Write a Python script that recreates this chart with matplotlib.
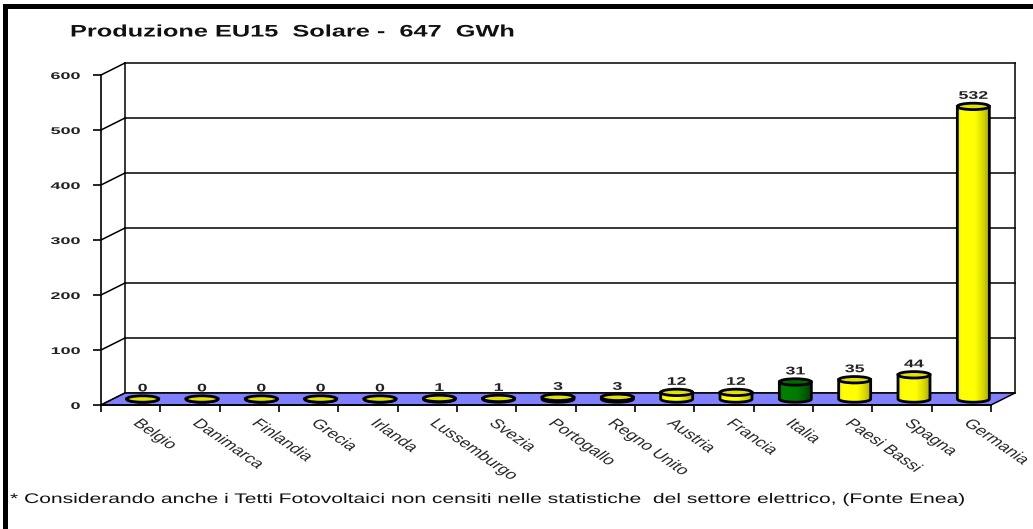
import numpy as np
import matplotlib
matplotlib.use("Agg")
import matplotlib.pyplot as plt
from matplotlib.patches import Polygon, Ellipse, PathPatch, Rectangle
from matplotlib.path import Path
from matplotlib.colors import LinearSegmentedColormap
from matplotlib.patheffects import AbstractPathEffect
from matplotlib.transforms import Affine2D, ScaledTranslation

# ---- data -------------------------------------------------------------
countries = ["Belgio", "Danimarca", "Finlandia", "Grecia", "Irlanda",
             "Lussemburgo", "Svezia", "Portogallo", "Regno Unito", "Austria",
             "Francia", "Italia", "Paesi Bassi", "Spagna", "Germania"]
gwh = [0, 0, 0, 0, 0, 1, 1, 3, 3, 12, 12, 31, 35, 44, 532]
highlight = "Italia"
y_ticks = [0, 100, 200, 300, 400, 500, 600]
title = "Produzione EU15  Solare -  647  GWh"
note = ("* Considerando anche i Tetti Fotovoltaici non censiti nelle "
        "statistiche  del settore elettrico, (Fonte Enea)")

plt.rcParams['font.family'] = ['Liberation Sans', 'DejaVu Sans']


class Widen(AbstractPathEffect):
    """Draw text horizontally widened by a factor around a pivot."""

    def __init__(self, sx, pivot='left'):
        super().__init__()
        self.sx = sx
        self.pivot = pivot

    def draw_path(self, renderer, gc, tpath, affine, rgbFace=None):
        m = affine.get_matrix()
        if self.pivot == 'left':
            px = m[0, 2]
        else:
            ext = affine.transform_path(tpath).get_extents()
            px = (ext.x0 + ext.x1) / 2 if self.pivot == 'center' else ext.x1
        t = Affine2D(m.copy()).translate(-px, 0).scale(self.sx, 1).translate(px, 0)
        renderer.draw_path(gc, tpath, t, rgbFace)


W, H, DPI = 1033, 529, 100
fig = plt.figure(figsize=(W / DPI, H / DPI), dpi=DPI)
fig.patch.set_facecolor('white')

# front plane of the box (pixels)
left_px, right_px, base_px, top_px = 101, 991, 405, 75
ax = fig.add_axes([left_px / W, 1 - base_px / H,
                   (right_px - left_px) / W, (base_px - top_px) / H])
n = len(countries)
ymax = y_ticks[-1]
ax.set_xlim(0, n)
ax.set_ylim(0, ymax)
ax.patch.set_visible(False)

ppx = ax.bbox.width / n
ppy = ax.bbox.height / ymax
DX = 24 / ppx      # depth shift of the back wall
DY = 12 / ppy

for s in ('top', 'right'):
    ax.spines[s].set_visible(False)
for s in ('left', 'bottom'):
    ax.spines[s].set_linewidth(1.2)
    ax.spines[s].set_zorder(2.5)

# back wall with gridlines and the slanted connectors
line_kw = dict(color='black', lw=1.1, clip_on=False, zorder=1)
for v in y_ticks:
    ax.plot([0, DX], [v, v + DY], **line_kw)
    ax.plot([DX, n + DX], [v + DY, v + DY], **line_kw)
ax.plot([DX, DX], [DY, ymax + DY], **line_kw)
ax.plot([n + DX, n + DX], [DY, ymax + DY], **line_kw)

# floor
floor = Polygon([(0, 0), (n, 0), (n + DX, DY), (DX, DY)], closed=True,
                facecolor='#8080ff', edgecolor='black', lw=1.1,
                clip_on=False, zorder=2)
ax.add_patch(floor)

# cylinders
cmap_y = LinearSegmentedColormap.from_list(
    'cyl_y', [(0, '#e8e800'), (0.12, '#ffff00'), (0.55, '#ffff00'),
              (0.8, '#d6d600'), (1, '#a4a400')])
cmap_g = LinearSegmentedColormap.from_list(
    'cyl_g', [(0, '#006400'), (0.12, '#008000'), (0.55, '#007a00'),
              (0.8, '#005c00'), (1, '#003c00')])
a = 16 / ppx
b = 3.2 / ppy
t = np.linspace(np.pi, 2 * np.pi, 48)
grad = np.linspace(0, 1, 256).reshape(1, -1)

for i, (name, v) in enumerate(zip(countries, gwh)):
    green = name == highlight
    cx = i + 0.5 + DX / 2
    y0 = DY / 2
    y1 = y0 + v
    verts = ([(cx - a, y1), (cx - a, y0)]
             + list(zip(cx + a * np.cos(t), y0 + b * np.sin(t)))
             + [(cx + a, y1), (cx - a, y1)])
    codes = [Path.MOVETO] + [Path.LINETO] * (len(verts) - 2) + [Path.CLOSEPOLY]
    body = PathPatch(Path(verts, codes), facecolor='none', edgecolor='black',
                     lw=2.0, zorder=3.1)
    ax.add_patch(body)
    im = ax.imshow(grad, cmap=cmap_g if green else cmap_y,
                   extent=[cx - a, cx + a, y0 - b, y1], aspect='auto',
                   origin='lower', interpolation='bilinear', zorder=3)
    im.set_clip_path(body)
    top = Ellipse((cx, y1), 2 * a, 2 * b,
                  facecolor='#006c00' if green else '#e2e200',
                  edgecolor='black', lw=2.0, zorder=3.2)
    ax.add_patch(top)
    ax.annotate(str(v), (cx, y1), xytext=(0, 4), textcoords='offset points',
                ha='center', va='bottom', fontsize=8, fontweight='bold',
                color='#222222', zorder=4,
                path_effects=[Widen(1.6, 'center')])

ax.set_xlim(0, n)
ax.set_ylim(0, ymax)

# axes ticks and labels
ax.set_yticks(y_ticks)
ax.tick_params(axis='y', length=6, width=1.2, pad=9, labelsize=7,
               labelcolor='#222222')
for lbl in ax.get_yticklabels():
    lbl.set_fontweight('bold')
    lbl.set_path_effects([Widen(1.85, 'right')])

ax.set_xticks(range(n + 1), labels=[''] * (n + 1))
ax.set_xticks(np.arange(n) + 0.5, labels=countries, minor=True)
ax.tick_params(axis='x', which='major', length=5, width=1.2)
ax.tick_params(axis='x', which='minor', length=0, pad=9, labelsize=9.5,
               labelcolor='#2a2a2a')
shift = ScaledTranslation(8 / DPI, 0, fig.dpi_scale_trans)
for lbl in ax.get_xticklabels(minor=True):
    lbl.set_rotation(-45)
    lbl.set_rotation_mode('anchor')
    lbl.set_ha('left')
    lbl.set_va('top')
    lbl.set_transform(lbl.get_transform() + shift)
    lbl.set_path_effects([Widen(1.45, 'left')])

# title and footnote
fig.text(70 / W, 1 - 32 / H, title, ha='left', va='center', fontsize=12,
         fontweight='bold', color='#111111', path_effects=[Widen(1.52, 'left')])
fig.text(10 / W, 1 - 499 / H, note, ha='left', va='center', fontsize=10,
         color='#111111', path_effects=[Widen(1.515, 'left')])

# frame on the left and top edges
fig.add_artist(Rectangle((3 / W, 0), 5 / W, 1 - 4 / H, transform=fig.transFigure,
                         facecolor='black', edgecolor='none'))
fig.add_artist(Rectangle((3 / W, 1 - 9 / H), 1 - 3 / W, 5 / H,
                         transform=fig.transFigure,
                         facecolor='black', edgecolor='none'))

fig.savefig('out.png', dpi=DPI)
